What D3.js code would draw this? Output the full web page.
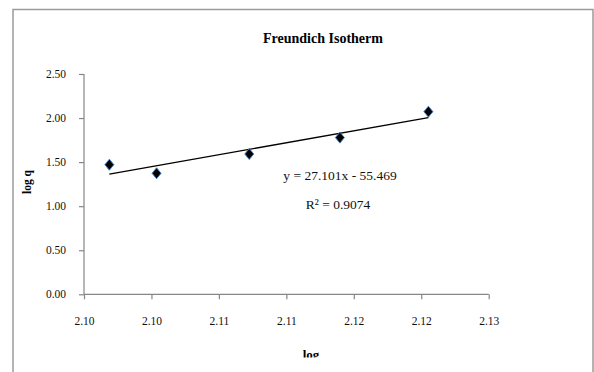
<!DOCTYPE html>
<html>
<head>
<meta charset="utf-8">
<script src="https://cdn.jsdelivr.net/npm/d3@7"></script>
<style>
html,body{margin:0;padding:0;background:#fff;}
svg{display:block;font-family:"Liberation Serif","Times New Roman",serif;}
</style>
</head>
<body>
<script>
// ---- data ----
const xValues = [2.09708, 2.10058, 2.10745, 2.11417, 2.12073];
const yValues = [1.471, 1.373, 1.592, 1.778, 2.073];
const xTickValues = [2.0952, 2.1002, 2.1052, 2.1102, 2.1152, 2.1202, 2.1252];
const xTickLabels = ["2.10", "2.10", "2.11", "2.11", "2.12", "2.12", "2.13"];
const yTickValues = [0, 0.5, 1.0, 1.5, 2.0, 2.5];
const yTickLabels = ["0.00", "0.50", "1.00", "1.50", "2.00", "2.50"];
const trendSlope = 27.101;
const trendIntercept = -55.469;
const titleText = "Freundich Isotherm";
const xAxisTitle = "log";
const yAxisTitle = "log q";
const equationText = "y = 27.101x - 55.469";
const r2Text = "R\u00B2 = 0.9074";

// ---- layout ----
const W = 594, H = 372;
const plot = {left: 84, right: 488.7, top: 74, bottom: 294.3};

const svg = d3.select("body").append("svg").attr("width", W).attr("height", H);

// outer chart border
svg.append("rect").attr("x", 13).attr("y", 9.5).attr("width", 580).attr("height", 380)
  .attr("fill", "#fff").attr("stroke", "#9a9a9a").attr("stroke-width", 1.5);

const x = d3.scaleLinear().domain([xTickValues[0], xTickValues[xTickValues.length - 1]]).range([plot.left, plot.right]);
const y = d3.scaleLinear().domain([0, 2.5]).range([plot.bottom, plot.top]);

// axes
const xAxis = d3.axisBottom(x).tickValues(xTickValues).tickSize(5).tickPadding(18)
  .tickFormat((d, i) => xTickLabels[i]);
const yAxis = d3.axisLeft(y).tickValues(yTickValues).tickSize(5).tickPadding(13)
  .tickFormat((d, i) => yTickLabels[i]);

const gx = svg.append("g").attr("transform", `translate(0,${plot.bottom})`).call(xAxis);
const gy = svg.append("g").attr("transform", `translate(${plot.left},0)`).call(yAxis);
[gx, gy].forEach(g => {
  g.select(".domain").attr("stroke", "#868686").attr("stroke-width", 1.2);
  g.selectAll(".tick line").attr("stroke", "#868686").attr("stroke-width", 1.2);
  g.selectAll(".tick text").attr("fill", "#111").attr("font-size", "11.5px")
    .attr("font-family", "Liberation Serif, serif");
});
gy.select(".domain").attr("d", `M0,${plot.top}V${plot.bottom}`);
gx.select(".domain").attr("d", `M${plot.left},0H${plot.right}`);

// trendline
const tx0 = d3.min(xValues), tx1 = d3.max(xValues);
svg.append("line")
  .attr("x1", x(tx0)).attr("y1", y(trendSlope * tx0 + trendIntercept))
  .attr("x2", x(tx1)).attr("y2", y(trendSlope * tx1 + trendIntercept))
  .attr("stroke", "#000").attr("stroke-width", 1.3);

// markers (diamonds)
const pts = xValues.map((v, i) => ({x: v, y: yValues[i]}));
svg.append("g").selectAll("path").data(pts).enter().append("path")
  .attr("transform", d => `translate(${x(d.x)},${y(d.y)})`)
  .attr("d", "M0,-5.5L4.5,0L0,5.5L-4.5,0Z")
  .attr("fill", "#000").attr("stroke", "#4a7ebb").attr("stroke-width", 1);

// title
svg.append("text").attr("x", 323).attr("y", 42.5).attr("text-anchor", "middle")
  .attr("font-weight", "bold").attr("font-size", "14px").text(titleText);

// trendline labels
svg.append("text").attr("x", 340).attr("y", 179.5).attr("text-anchor", "middle")
  .attr("font-size", "13.5px").attr("fill", "#111").text(equationText);
svg.append("text").attr("x", 338).attr("y", 208.5).attr("text-anchor", "middle")
  .attr("font-size", "13.5px").attr("fill", "#111").text(r2Text);

// y axis title
svg.append("text").attr("transform", "translate(31,182) rotate(-90)").attr("text-anchor", "middle")
  .attr("font-weight", "bold").attr("font-size", "11.5px").text(yAxisTitle);

// x axis title (clipped at bottom as in reference)
svg.append("clipPath").attr("id", "xclip").append("rect")
  .attr("x", 0).attr("y", 0).attr("width", W).attr("height", 357.5);
svg.append("text").attr("x", 311).attr("y", 359).attr("text-anchor", "middle")
  .attr("clip-path", "url(#xclip)")
  .attr("font-weight", "bold").attr("font-size", "13px").text(xAxisTitle);
</script>
</body>
</html>
